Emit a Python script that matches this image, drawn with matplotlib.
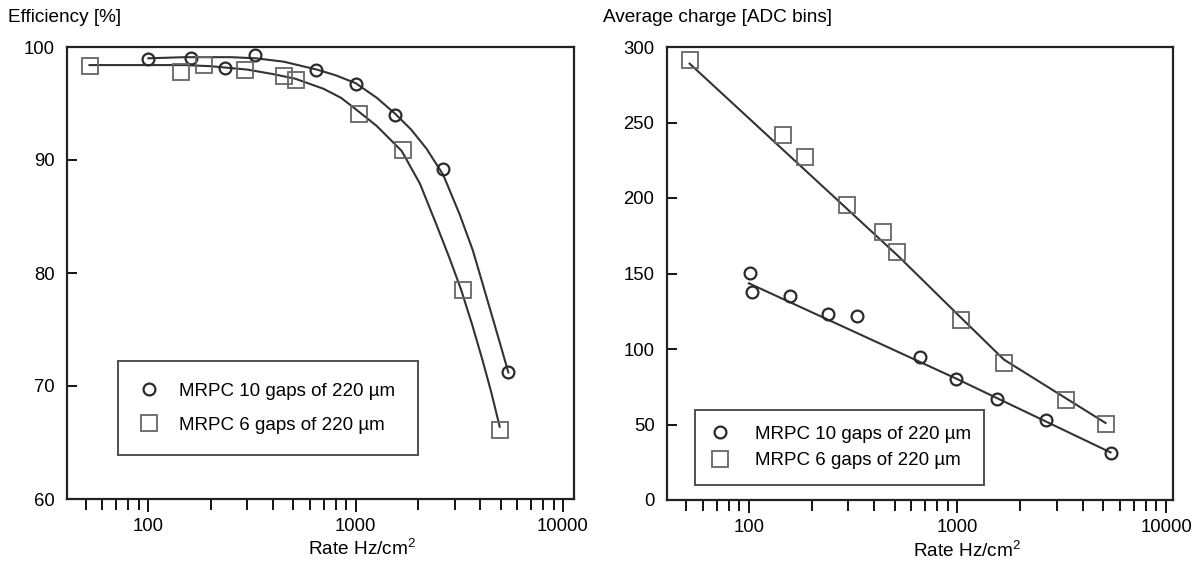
import matplotlib
matplotlib.use('Agg')
import matplotlib.pyplot as plt
from matplotlib.lines import Line2D
from matplotlib.ticker import LogLocator, FuncFormatter, NullFormatter, MultipleLocator

plt.rcParams['font.family'] = ['Liberation Sans', 'DejaVu Sans']
plt.rcParams['mathtext.default'] = 'regular'

# ---- efficiency panel (left) ----
eff10_rate = [100, 160, 235, 327, 645, 1000, 1550, 2650, 5450]
eff10_val = [98.9, 99.0, 98.1, 99.3, 98.0, 96.7, 94.0, 89.2, 71.2]
eff6_rate = [52, 143, 185, 292, 453, 516, 1037, 1686, 3290, 4950]
eff6_val = [98.3, 97.8, 98.4, 98.0, 97.4, 97.1, 94.1, 90.9, 78.5, 66.1]

# fitted curves
eff10_fit_rate = [100, 150, 250, 330, 450, 650, 800, 1000, 1265, 1549, 1850, 2196,
                  2642, 3171, 3674, 4103, 4580, 5000, 5450]
eff10_fit_val = [99.0, 99.1, 99.1, 99.0, 98.7, 98.0, 97.5, 96.8, 95.5, 94.1, 92.7, 91.0,
                 88.7, 85.2, 82.0, 79.0, 76.0, 73.6, 71.2]
eff6_fit_rate = [52, 100, 150, 200, 300, 400, 510, 700, 850, 1000, 1265, 1667, 2042,
                 2449, 2837, 3228, 3650, 4103, 4500, 4950]
eff6_fit_val = [98.4, 98.4, 98.4, 98.3, 98.0, 97.6, 97.2, 96.3, 95.5, 94.5, 93.0, 90.8, 87.9,
                84.3, 81.3, 78.5, 75.4, 72.2, 69.5, 66.4]

# ---- average charge panel (right) ----
q10_rate = [101, 103, 157, 240, 330, 660, 986, 1550, 2650, 5420]
q10_val = [150.5, 137.9, 135.3, 123.0, 121.9, 94.5, 80.1, 66.9, 53.0, 31.3]
q6_rate = [52, 146, 185, 296, 438, 514, 1035, 1670, 3300, 5130]
q6_val = [291.4, 241.7, 227.4, 195.2, 177.3, 164.4, 119.2, 90.5, 66.2, 50.1]

q10_fit_rate = [100, 1000, 5420]
q10_fit_val = [143.5, 80.0, 31.5]
q6_fit_rate = [52, 525, 1035, 1670, 3300, 5130]
q6_fit_val = [289.0, 161.0, 121.0, 93.0, 67.5, 51.0]

label10 = 'MRPC 10 gaps of 220 \u00b5m'
label6 = 'MRPC 6 gaps of 220 \u00b5m'

LINE = '#333333'
CIRC = '#2a2a2a'
SQ = '#666666'
TICK_FS = 13.3
LEG_FS = 13.5
LAB_FS = 13.7

fig = plt.figure(figsize=(11.99, 5.69), dpi=100)
ax1 = fig.add_axes([67 / 1199, 1 - 499 / 569, 507 / 1199, 452 / 569])
ax2 = fig.add_axes([667 / 1199, 1 - 500 / 569, 506 / 1199, 453 / 569])


def style_axis(ax):
    ax.set_xscale('log')
    ax.xaxis.set_major_locator(LogLocator(base=10))
    ax.xaxis.set_minor_locator(LogLocator(base=10, subs=range(2, 10)))
    ax.xaxis.set_major_formatter(FuncFormatter(lambda v, p: '%d' % v))
    ax.xaxis.set_minor_formatter(NullFormatter())
    ax.tick_params(axis='x', which='major', direction='out', length=9, width=1.3,
                   labelsize=TICK_FS, pad=5, top=False)
    ax.tick_params(axis='x', which='minor', direction='out', length=8, width=1.3, top=False)
    ax.tick_params(axis='y', which='major', direction='in', length=7, width=1.3,
                   labelsize=TICK_FS, pad=9, right=False)
    for s in ax.spines.values():
        s.set_linewidth(1.6)
        s.set_color('#222222')


style_axis(ax1)
ax1.plot(eff10_fit_rate, eff10_fit_val, color=LINE, lw=1.5)
ax1.plot(eff6_fit_rate, eff6_fit_val, color=LINE, lw=1.5)
ax1.plot(eff10_rate, eff10_val, 'o', ms=8.5, mfc='none', mec=CIRC, mew=1.6)
ax1.plot(eff6_rate, eff6_val, 's', ms=11, mfc='none', mec=SQ, mew=1.3)
ax1.set_xlim(40.5, 11300)
ax1.set_ylim(60, 100)
ax1.yaxis.set_major_locator(MultipleLocator(10))

style_axis(ax2)
ax2.plot(q10_fit_rate, q10_fit_val, color=LINE, lw=1.5)
ax2.plot(q6_fit_rate, q6_fit_val, color=LINE, lw=1.5)
ax2.plot(q10_rate, q10_val, 'o', ms=8.5, mfc='none', mec=CIRC, mew=1.6)
ax2.plot(q6_rate, q6_val, 's', ms=11, mfc='none', mec=SQ, mew=1.3)
ax2.set_xlim(40.5, 10800)
ax2.set_ylim(0, 300)
ax2.yaxis.set_major_locator(MultipleLocator(50))

handles = [Line2D([], [], ls='none', marker='o', ms=8.5, mfc='none', mec=CIRC, mew=1.6),
           Line2D([], [], ls='none', marker='s', ms=11, mfc='none', mec=SQ, mew=1.3)]

leg1 = ax1.legend(handles, [label10, label6], loc='lower left',
                  bbox_to_anchor=(0.1006, 0.097, 0.591, 0.21), mode='expand',
                  borderaxespad=0, fontsize=LEG_FS, frameon=True, fancybox=False,
                  edgecolor='#222222', borderpad=1.14, handlelength=1.02,
                  handletextpad=1.09, labelspacing=0.89)
leg1.get_frame().set_linewidth(1.4)

leg2 = ax2.legend(handles, [label10, label6], loc='lower left',
                  bbox_to_anchor=(0.0553, 0.033, 0.571, 0.17), mode='expand',
                  borderaxespad=0, fontsize=LEG_FS, frameon=True, fancybox=False,
                  edgecolor='#222222', borderpad=0.84, handlelength=0.98,
                  handletextpad=1.38, labelspacing=0.51)
leg2.get_frame().set_linewidth(1.4)

fig.text(8 / 1199, 1 - 17 / 569, 'Efficiency [%]', fontsize=LAB_FS, ha='left', va='center')
fig.text(603 / 1199, 1 - 17 / 569, 'Average charge [ADC bins]', fontsize=LAB_FS,
         ha='left', va='center')
fig.text(362 / 1199, 1 - 549 / 569, 'Rate Hz/cm$^2$', fontsize=LAB_FS, ha='center', va='center')
fig.text(967 / 1199, 1 - 551 / 569, 'Rate Hz/cm$^2$', fontsize=LAB_FS, ha='center', va='center')

fig.savefig('out.png', dpi=100, facecolor='white')
